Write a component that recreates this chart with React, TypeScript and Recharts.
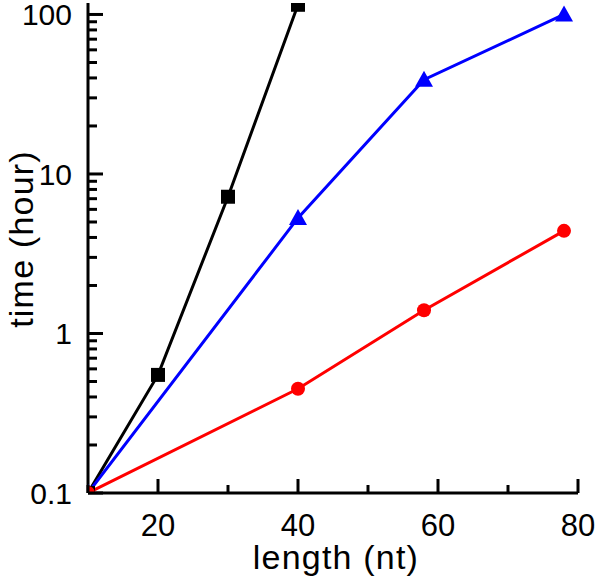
import { LineChart, Line, XAxis, YAxis } from "recharts";

// black squares
const blackLengths = [10, 20, 30, 40];
const blackTimes = [0.1, 0.55, 7.2, 115];
// blue triangles
const blueLengths = [10, 40, 58, 78];
const blueTimes = [0.1, 5.3, 39, 100];
// red circles
const redLengths = [10, 40, 58, 78];
const redTimes = [0.1, 0.45, 1.4, 4.4];

const xTicks = [10, 20, 30, 40, 50, 60, 70, 80];
const xLabelled = [20, 40, 60, 80];
const yTicks = [
  0.1, 0.2, 0.3, 0.4, 0.5, 0.6, 0.7, 0.8, 0.9,
  1, 2, 3, 4, 5, 6, 7, 8, 9,
  10, 20, 30, 40, 50, 60, 70, 80, 90,
  100,
];
const yLabelled = [0.1, 1, 10, 100];

const toRows = (xs: number[], ys: number[]) => xs.map((x, i) => ({ len: x, time: ys[i] }));

const blackData = toRows(blackLengths, blackTimes);
const blueData = toRows(blueLengths, blueTimes);
const redData = toRows(redLengths, redTimes);

const FONT = "'Liberation Sans', Arial, sans-serif";

// inward ticks, label only on decades
const YTick = (props: any) => {
  const { x, y, payload } = props;
  const v = payload.value;
  const major = yLabelled.some((m) => Math.abs(m - v) < 1e-9);
  return (
    <g>
      <line x1={x} x2={x + (major ? 15 : 9)} y1={y} y2={y} stroke="#000" strokeWidth={3} />
      {major && (
        <text x={x - 16} y={y} dy="0.36em" textAnchor="end" fontSize={30} fontFamily={FONT} fill="#000">
          {String(v)}
        </text>
      )}
    </g>
  );
};

const XTick = (props: any) => {
  const { x, y, payload } = props;
  const v = payload.value;
  const major = v % 20 === 0;
  return (
    <g>
      <line x1={x} x2={x} y1={y} y2={y - (major ? 14 : 8)} stroke="#000" strokeWidth={3} />
      {xLabelled.includes(v) && (
        <text x={x} y={y + 43} textAnchor="middle" fontSize={31} fontFamily={FONT} fill="#000">
          {String(v)}
        </text>
      )}
    </g>
  );
};

const XTitle = (props: any) => {
  const vb = props.viewBox;
  return (
    <text
      x={vb.x + vb.width / 2 + 3}
      y={vb.y + 76}
      textAnchor="middle"
      fontSize={34}
      letterSpacing={1.2}
      fontFamily={FONT}
      fill="#000"
    >
      length (nt)
    </text>
  );
};

const YTitle = (props: any) => {
  const vb = props.viewBox;
  return (
    <text
      transform={`translate(${vb.x + 33}, ${vb.y + vb.height / 2 - 9}) rotate(-90)`}
      textAnchor="middle"
      fontSize={34}
      letterSpacing={1.2}
      fontFamily={FONT}
      fill="#000"
    >
      time (hour)
    </text>
  );
};

const Square = (props: any) => {
  const { cx, cy } = props;
  if (cx == null || cy == null) return null;
  return <rect x={cx - 7} y={cy - 7} width={14} height={14} fill="#000" />;
};

const Circle = (props: any) => {
  const { cx, cy } = props;
  if (cx == null || cy == null) return null;
  return <circle cx={cx} cy={cy} r={7} fill="#ff0000" />;
};

const Triangle = (props: any) => {
  const { cx, cy } = props;
  if (cx == null || cy == null) return null;
  return <path d={`M${cx},${cy - 9} L${cx + 9},${cy + 7} L${cx - 9},${cy + 7} Z`} fill="#0000ff" />;
};

export default function App() {
  return (
    <div style={{ position: "absolute", left: 0, top: 0, background: "#fff" }}>
      <LineChart width={600} height={578} margin={{ top: 3, right: 22, bottom: 0, left: 0 }}>
        <XAxis
          dataKey="len"
          type="number"
          domain={[10, 80]}
          ticks={xTicks}
          interval={0}
          allowDataOverflow
          height={85}
          tickSize={0}
          tickMargin={0}
          tickLine={false}
          tick={<XTick />}
          axisLine={{ stroke: "#000", strokeWidth: 3 }}
          label={{ content: <XTitle /> }}
        />
        {/* frame: top and right borders */}
        <XAxis
          xAxisId="top"
          orientation="top"
          type="number"
          domain={[10, 80]}
          height={0}
          tick={false}
          tickLine={false}
          axisLine={{ stroke: "#000", strokeWidth: 3 }}
        />
        <YAxis
          dataKey="time"
          scale="log"
          type="number"
          domain={[0.1, 118]}
          ticks={yTicks}
          interval={0}
          allowDataOverflow
          width={88}
          tickSize={0}
          tickMargin={0}
          tickLine={false}
          tick={<YTick />}
          axisLine={{ stroke: "#000", strokeWidth: 3 }}
          label={{ content: <YTitle /> }}
        />
        <YAxis
          yAxisId="right"
          orientation="right"
          scale="log"
          type="number"
          domain={[0.1, 118]}
          width={0}
          tick={false}
          tickLine={false}
          axisLine={{ stroke: "#000", strokeWidth: 3 }}
        />
        <Line
          data={blackData}
          dataKey="time"
          stroke="#000"
          strokeWidth={3}
          dot={<Square />}
          isAnimationActive={false}
        />
        <Line
          data={blueData}
          dataKey="time"
          stroke="#0000ff"
          strokeWidth={3}
          dot={<Triangle />}
          isAnimationActive={false}
        />
        <Line
          data={redData}
          dataKey="time"
          stroke="#ff0000"
          strokeWidth={3}
          dot={<Circle />}
          isAnimationActive={false}
        />
      </LineChart>
    </div>
  );
}
